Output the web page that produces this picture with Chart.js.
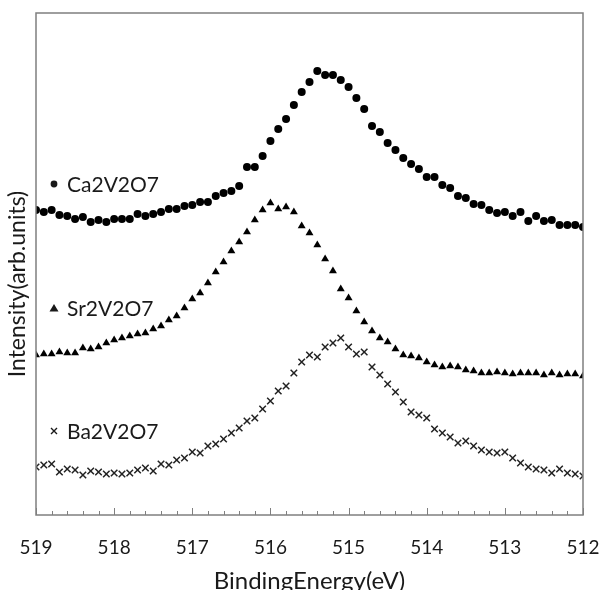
<!DOCTYPE html>
<html>
<head>
<meta charset="utf-8">
<script src="https://cdn.jsdelivr.net/npm/chart.js@4/dist/chart.umd.min.js"></script>
<style>
  html, body { margin: 0; padding: 0; background: #fff; }
  #wrap { width: 601px; height: 590px; }
</style>
</head>
<body>
<div id="wrap"><canvas id="c" width="601" height="590"></canvas></div>
<script>
// Binding energies (eV), 519.0 -> 512.0
const energies = [519.0,518.9,518.8,518.7,518.6,518.5,518.4,518.3,518.2,518.1,
  518.0,517.9,517.8,517.7,517.6,517.5,517.4,517.3,517.2,517.1,
  517.0,516.9,516.8,516.7,516.6,516.5,516.4,516.3,516.2,516.1,
  516.0,515.9,515.8,515.7,515.6,515.5,515.4,515.3,515.2,515.1,
  515.0,514.9,514.8,514.7,514.6,514.5,514.4,514.3,514.2,514.1,
  514.0,513.9,513.8,513.7,513.6,513.5,513.4,513.3,513.2,513.1,
  513.0,512.9,512.8,512.7,512.6,512.5,512.4,512.3,512.2,512.1,512.0];

const caValues = [305,303,305,300,299,296,298,293,295,293,296,296,296,301,299,301,303,306,306,309,
  310,313,313,319,322,324,329,348,348,359,374,386,396,410,423,433,444,440,440,435,
  428,417,406,389,383,372,365,357,351,346,338,338,330,327,319,317,311,310,305,302,
  303,299,303,294,299,294,295,290,290,290,288];

const srValues = [160,161,161,163,162,162,167,166,168,172,175,177,179,181,182,186,189,195,199,207,
  216,222,232,243,253,264,273,283,295,305,312,306,308,303,289,282,270,256,244,226,
  217,204,193,184,177,173,166,160,159,157,153,150,148,149,148,145,144,142,142,143,
  142,141,142,142,142,140,142,140,141,141,139];

const baValues = [48,50,51,43,46,45,40,44,43,41,42,41,42,45,47,44,51,50,55,57,
  63,62,69,71,76,82,87,94,97,106,114,124,129,142,153,160,158,168,172,177,
  168,161,163,148,140,131,123,113,103,100,97,86,82,78,72,74,69,65,63,62,
  63,57,52,48,46,45,42,46,42,41,39];

const seriesNames = ['Ca2V2O7', 'Sr2V2O7', 'Ba2V2O7'];
const xTickMin = 512, xTickMax = 519, xTickStep = 1, xMinorStep = 0.2;
const xTitle = 'BindingEnergy(eV)';
const yTitle = 'Intensity(arb.units)';

function pts(vals) { return vals.map((v, i) => ({ x: energies[i], y: v })); }

const FONT = 'Lato, "Noto Sans", sans-serif';
const INK = '#1a1a1a';
const FRAME = '#7f7f7f';

const decorPlugin = {
  id: 'decor',
  afterDraw(chart) {
    const { ctx, chartArea: a, scales } = chart;
    const xs = scales.x;
    ctx.save();
    // frame
    ctx.strokeStyle = FRAME;
    ctx.lineWidth = 1.5;
    ctx.strokeRect(a.left, a.top, a.right - a.left, a.bottom - a.top);
    // inner tick marks
    ctx.lineWidth = 1;
    ctx.beginPath();
    const n = Math.round((xTickMax - xTickMin) / xMinorStep);
    for (let k = 0; k <= n; k++) {
      const v = xTickMin + k * xMinorStep;
      const px = Math.round(xs.getPixelForValue(v)) + 0.5;
      const major = Math.abs(v - Math.round(v)) < 1e-6;
      const len = major ? 7 : 4;
      ctx.moveTo(px, a.bottom);
      ctx.lineTo(px, a.bottom - len);
    }
    ctx.stroke();
    // y-axis title
    ctx.fillStyle = INK;
    ctx.font = '23px ' + FONT;
    ctx.textAlign = 'center';
    ctx.textBaseline = 'middle';
    ctx.translate(18, 284);
    ctx.rotate(-Math.PI / 2);
    ctx.fillText(yTitle, 0, 0);
    ctx.restore();

    // series labels
    ctx.save();
    ctx.fillStyle = INK;
    ctx.strokeStyle = INK;
    ctx.textBaseline = 'middle';
    ctx.textAlign = 'left';
    ctx.font = '21px ' + FONT;
    // circle marker
    ctx.beginPath(); ctx.arc(54, 184, 3.4, 0, Math.PI * 2); ctx.fill();
    ctx.fillText(seriesNames[0], 67, 185);
    // triangle marker
    ctx.beginPath();
    ctx.moveTo(54, 304); ctx.lineTo(58.5, 311.5); ctx.lineTo(49.5, 311.5); ctx.closePath(); ctx.fill();
    ctx.fillText(seriesNames[1], 67, 309);
    // cross marker
    ctx.lineWidth = 1.4;
    ctx.beginPath();
    ctx.moveTo(51, 428); ctx.lineTo(57, 434); ctx.moveTo(57, 428); ctx.lineTo(51, 434);
    ctx.stroke();
    ctx.fillText(seriesNames[2], 67, 432);
    ctx.restore();
  }
};

new Chart(document.getElementById('c'), {
  type: 'scatter',
  data: {
    datasets: [
      { label: seriesNames[0], data: pts(caValues), pointStyle: 'circle', pointRadius: 4,
        backgroundColor: '#000', borderColor: '#000', borderWidth: 0 },
      { label: seriesNames[1], data: pts(srValues), pointStyle: 'triangle', pointRadius: 4.6,
        backgroundColor: '#000', borderColor: '#000', borderWidth: 0 },
      { label: seriesNames[2], data: pts(baValues), pointStyle: 'crossRot', pointRadius: 4.6,
        backgroundColor: '#222', borderColor: '#222', borderWidth: 1.5 }
    ]
  },
  options: {
    responsive: false,
    animation: false,
    events: [],
    layout: { padding: { top: 13, right: 18, left: 0, bottom: 0 } },
    plugins: { legend: { display: false }, tooltip: { enabled: false } },
    scales: {
      x: {
        type: 'linear',
        reverse: true,
        min: xTickMin,
        max: xTickMax,
        afterFit(s) { s.height = 75; s.paddingLeft = 0; s.paddingRight = 0; },
        grid: { display: true, drawOnChartArea: false, drawTicks: false },
        border: { display: false },
        ticks: {
          stepSize: xTickStep,
          padding: 21,
          color: INK,
          font: { family: FONT, size: 19 },
          maxRotation: 0,
          autoSkip: false
        },
        title: {
          display: true,
          text: xTitle,
          color: INK,
          font: { family: FONT, size: 24 },
          padding: { top: 0, bottom: -6 }
        }
      },
      y: {
        min: 0,
        max: 502,
        afterFit(s) { s.width = 36; },
        grid: { display: false },
        border: { display: false },
        ticks: { display: false }
      }
    }
  },
  plugins: [decorPlugin]
});
</script>
</body>
</html>
